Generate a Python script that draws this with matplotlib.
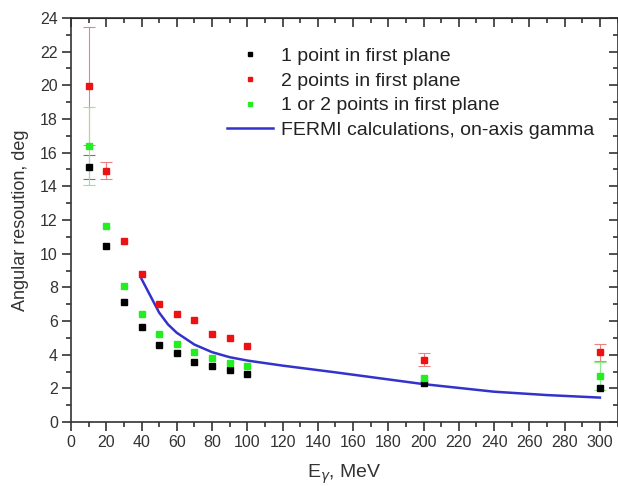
import numpy as np
import matplotlib
matplotlib.use("Agg")
import matplotlib.pyplot as plt
from matplotlib.ticker import MultipleLocator

plt.rcParams["font.family"] = ["Liberation Sans", "DejaVu Sans"]

# -------------------------
# data
# -------------------------
energy = [10, 20, 30, 40, 50, 60, 70, 80, 90, 100, 200, 300]

res_one = [15.14, 10.48, 7.10, 5.62, 4.58, 4.09, 3.55, 3.35, 3.06, 2.84, 2.29, 2.02]
err_one = [0.72, 0, 0, 0, 0, 0, 0, 0, 0, 0, 0, 0]

res_two = [19.94, 14.94, 10.74, 8.79, 7.00, 6.41, 6.03, 5.24, 4.98, 4.50, 3.71, 4.13]
err_two = [3.5, 0.52, 0, 0, 0, 0, 0, 0, 0, 0, 0.38, 0.51]

res_both = [16.37, 11.67, 8.10, 6.41, 5.22, 4.64, 4.17, 3.83, 3.53, 3.33, 2.62, 2.74]
err_both = [2.32, 0, 0, 0, 0, 0, 0, 0, 0, 0, 0, 0.83]

fermi_e = [40, 45, 50, 55, 60, 70, 80, 90, 100, 120, 150, 175, 200, 240, 270, 300]
fermi_res = [8.5, 7.5, 6.5, 5.8, 5.3, 4.6, 4.15, 3.85, 3.65, 3.35, 2.95, 2.6, 2.25, 1.8, 1.6, 1.45]

series = [
    (res_one, err_one, "black", "#777777", "1 point in first plane"),
    (res_two, err_two, "#ee1111", "#f08080", "2 points in first plane"),
    (res_both, err_both, "#22ee22", "#88ee88", "1 or 2 points in first plane"),
]

# -------------------------
# plot
# -------------------------
fig = plt.figure(figsize=(6.18, 4.86), dpi=100)
ax = fig.add_axes([71 / 618, 64 / 486, 546.5 / 618, 404 / 486])

handles = []
for res, err, col, ecol, lab in series:
    e = np.array(energy)
    r = np.array(res)
    er = np.array(err)
    m = er > 0
    # error bars only where the original shows them
    ax.errorbar(e[m], r[m], yerr=er[m], fmt="none", ecolor=ecol,
                elinewidth=0.8, capsize=4, capthick=0.8, zorder=2)
    h, = ax.plot(e, r, "s", ms=4.5, color=col, ls="none", label=lab, zorder=3)
    handles.append(h)

line, = ax.plot(fermi_e, fermi_res, color="#3333cc", lw=1.8,
                label="FERMI calculations, on-axis gamma", zorder=2)
handles.append(line)

ax.set_xlim(0, 310)
ax.set_ylim(0, 24)
ax.xaxis.set_major_locator(MultipleLocator(20))
ax.xaxis.set_minor_locator(MultipleLocator(10))
ax.yaxis.set_major_locator(MultipleLocator(2))
ax.yaxis.set_minor_locator(MultipleLocator(1))

ax.tick_params(which="both", direction="out", top=False, right=False,
               labelsize=11.5, width=1.2, colors="#333333", pad=3)
ax.tick_params(which="major", length=6.5)
ax.tick_params(which="minor", length=3.5)
for s in ax.spines.values():
    s.set_linewidth(1.2)
    s.set_color("#333333")

# inward ticks on top and right, like the original
sec_x = ax.secondary_xaxis("top")
sec_x.xaxis.set_major_locator(MultipleLocator(20))
sec_x.xaxis.set_minor_locator(MultipleLocator(10))
sec_x.tick_params(which="both", direction="in", labeltop=False, width=1.2, colors="#333333")
sec_x.tick_params(which="major", length=6.5)
sec_x.tick_params(which="minor", length=3.5)
sec_y = ax.secondary_yaxis("right")
sec_y.yaxis.set_major_locator(MultipleLocator(2))
sec_y.yaxis.set_minor_locator(MultipleLocator(1))
sec_y.tick_params(which="both", direction="in", labelright=False, width=1.2, colors="#333333")
sec_y.tick_params(which="major", length=6.5)
sec_y.tick_params(which="minor", length=3.5)

ax.set_xlabel(r"E$_\gamma$, MeV", fontsize=14, color="#333333", labelpad=9)
ax.set_ylabel("Angular resoution, deg", fontsize=13, color="#333333", labelpad=8)

leg = ax.legend(handles=handles, loc="upper left", bbox_to_anchor=(0.253, 0.97),
                frameon=False, fontsize=14, handlelength=2.4, handletextpad=0.4,
                labelspacing=0.36, markerscale=0.7)
for t in leg.get_texts():
    t.set_color("#222222")

fig.savefig("out.png", dpi=100)
